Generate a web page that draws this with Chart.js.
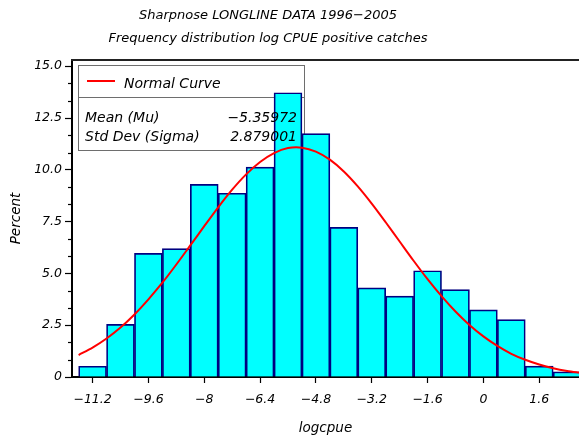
<!DOCTYPE html>
<html><head><meta charset="utf-8">
<script src="https://cdn.jsdelivr.net/npm/chart.js@4.4.0/dist/chart.umd.min.js"></script>
<style>html,body{margin:0;padding:0;background:#fff;}canvas{display:block;}</style>
</head><body>
<canvas id="c" width="579" height="439"></canvas>
<script>
const titleLines = ['Sharpnose LONGLINE DATA 1996\u22122005', 'Frequency distribution log CPUE positive catches'];
const binMidpoints = [-11.2,-10.4,-9.6,-8.8,-8.0,-7.2,-6.4,-5.6,-4.8,-4.0,-3.2,-2.4,-1.6,-0.8,0,0.8,1.6,2.4];
const binPercents = [0.52,2.54,5.97,6.20,9.30,8.87,10.13,13.72,11.75,7.22,4.30,3.90,5.13,4.22,3.24,2.77,0.53,0.25];
const curveX = [-11.6,-11.2,-10.8,-10.4,-10.0,-9.6,-9.2,-8.8,-8.4,-8.0,-7.6,-7.2,-6.8,-6.4,-6.0,-5.6,-5.2,-4.8,-4.4,-4.0,-3.6,-3.2,-2.8,-2.4,-2.0,-1.6,-1.2,-0.8,-0.4,0,0.4,0.8,1.2,1.6,2.0,2.4,2.8];
const curveY = [1.06,1.42,1.86,2.39,3.02,3.75,4.55,5.43,6.35,7.28,8.19,9.04,9.78,10.38,10.81,11.05,11.07,10.88,10.49,9.92,9.20,8.37,7.47,6.54,5.61,4.72,3.90,3.16,2.51,1.96,1.50,1.12,0.83,0.60,0.42,0.29,0.20];
const xTickValues = [-11.2,-9.6,-8,-6.4,-4.8,-3.2,-1.6,0,1.6];
const xTickLabels = ['\u221211.2','\u22129.6','\u22128','\u22126.4','\u22124.8','\u22123.2','\u22121.6','0','1.6'];
const yTickValues = [0,2.5,5,7.5,10,12.5,15];
const yTickLabels = ['0','2.5','5.0','7.5','10.0','12.5','15.0'];
const yMinorPerMajor = 3;
const xTitle = 'logcpue';
const yTitle = 'Percent';
const fitLabel = 'Normal Curve';
const fitStatNames = ['Mean (Mu)', 'Std Dev (Sigma)'];
const fitStatValues = ['\u22125.35972', '2.879001'];

const FONT = 'DejaVu Sans';
Chart.defaults.font.family = FONT;
Chart.defaults.font.style = 'italic';
Chart.defaults.color = '#000';

const decor = {
  id: 'decor',
  beforeDatasetsDraw(chart) {
    const ctx = chart.ctx;
    ctx.save();
    ctx.strokeStyle = '#6e6e6e';
    ctx.lineWidth = 1;
    ctx.strokeRect(78.5, 65.5, 226, 85);
    ctx.beginPath(); ctx.moveTo(78.5, 97.5); ctx.lineTo(304.5, 97.5); ctx.stroke();
    ctx.restore();
  },
  afterDatasetsDraw(chart) {
    const ctx = chart.ctx;
    ctx.save();
    ctx.strokeStyle = '#ff0000';
    ctx.lineWidth = 2;
    ctx.beginPath(); ctx.moveTo(87, 81); ctx.lineTo(115, 81); ctx.stroke();
    ctx.fillStyle = '#000';
    ctx.font = 'italic 14px "' + FONT + '"';
    ctx.textBaseline = 'alphabetic';
    ctx.textAlign = 'left';
    ctx.fillText(fitLabel, 124, 88);
    ctx.fillText(fitStatNames[0], 85, 121.5);
    ctx.fillText(fitStatNames[1], 85, 141);
    ctx.textAlign = 'right';
    ctx.fillText(fitStatValues[0], 297, 121.5);
    ctx.fillText(fitStatValues[1], 297, 141);
    ctx.restore();
  },
  afterDraw(chart) {
    const ctx = chart.ctx;
    const a = chart.chartArea;
    const y = chart.scales.y;
    ctx.save();
    ctx.strokeStyle = '#222';
    ctx.lineWidth = 2;
    ctx.beginPath(); ctx.moveTo(a.left - 1, a.top); ctx.lineTo(a.right, a.top); ctx.stroke();
    ctx.lineWidth = 1.2;
    ctx.strokeStyle = '#000';
    const step = (yTickValues[1] - yTickValues[0]) / yMinorPerMajor;
    for (let i = 0; i < yTickValues.length - 1; i++) {
      for (let k = 1; k < yMinorPerMajor; k++) {
        const py = Math.round(y.getPixelForValue(yTickValues[i] + k * step)) + 0.5;
        ctx.beginPath(); ctx.moveTo(a.left - 4, py); ctx.lineTo(a.left, py); ctx.stroke();
      }
    }
    ctx.fillStyle = '#000';
    ctx.font = 'italic 13px "' + FONT + '"';
    ctx.textAlign = 'center';
    ctx.textBaseline = 'alphabetic';
    ctx.fillText(titleLines[0], 268, 19);
    ctx.fillText(titleLines[1], 268, 41.5);
    ctx.restore();
  }
};

new Chart(document.getElementById('c'), {
  type: 'bar',
  data: {
    datasets: [
      {
        type: 'line',
        order: 0,
        data: curveX.map((x, i) => ({x: x, y: curveY[i]})),
        borderColor: '#ff0000',
        borderWidth: 2,
        pointRadius: 0,
        tension: 0.3,
        fill: false
      },
      {
        type: 'bar',
        order: 1,
        data: binMidpoints.map((x, i) => ({x: x, y: binPercents[i]})),
        backgroundColor: '#00ffff',
        borderColor: '#000080',
        borderWidth: 1.7,
        barPercentage: 1,
        categoryPercentage: 1
      }
    ]
  },
  options: {
    responsive: false,
    devicePixelRatio: 1,
    animation: false,
    layout: {padding: {top: 60, left: 0, right: 0, bottom: 0}},
    plugins: {legend: {display: false}, tooltip: {enabled: false}, title: {display: false}},
    scales: {
      x: {
        type: 'linear',
        min: -11.79,
        max: 2.74,
        offset: false,
        afterFit(s) { s.height = 62; },
        afterBuildTicks(s) { s.ticks = xTickValues.map(v => ({value: v})); },
        grid: {display: true, drawOnChartArea: false, drawTicks: true, tickLength: 6, tickColor: '#000', tickWidth: 1.2, offset: false},
        border: {display: true, color: '#000', width: 2},
        ticks: {autoSkip: false, maxRotation: 0, padding: 9, font: {size: 12.5, style: 'italic'}, callback: (v, i) => xTickLabels[i]},
        title: {display: true, text: xTitle, font: {size: 13.5, style: 'italic'}, padding: {top: 0, bottom: 2}}
      },
      y: {
        type: 'linear',
        min: 0,
        max: 15.3,
        afterFit(s) { s.width = 72; },
        afterBuildTicks(s) { s.ticks = yTickValues.map(v => ({value: v})); },
        grid: {display: true, drawOnChartArea: false, drawTicks: true, tickLength: 7, tickColor: '#000', tickWidth: 1.2},
        border: {display: true, color: '#000', width: 2},
        ticks: {autoSkip: false, padding: 3, font: {size: 12.5, style: 'italic'}, callback: (v, i) => yTickLabels[i]},
        title: {display: true, text: yTitle, font: {size: 13.5, style: 'italic'}, padding: {top: 8.6, bottom: 0}}
      }
    }
  },
  plugins: [decor]
});
</script>
</body></html>
